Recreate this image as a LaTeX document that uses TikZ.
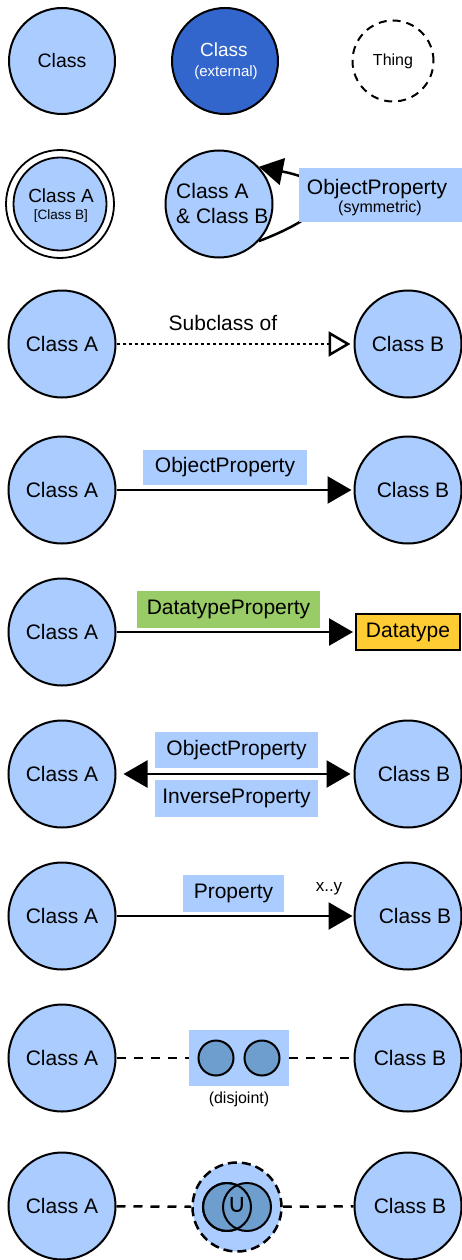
\documentclass[tikz,border=0pt]{standalone}
\usepackage{fontspec}
\setmainfont{Liberation Sans}
\newfontfamily\symbolfont{DejaVu Sans}
\usetikzlibrary{arrows.meta}
\definecolor{classblue}{HTML}{AACCFF}
\definecolor{extblue}{HTML}{3366CC}
\definecolor{setblue}{HTML}{6E9ECE}
\definecolor{dtyellow}{HTML}{FFCC33}
\definecolor{dtgreen}{HTML}{99CC66}
\newcommand{\fs}[1]{\fontsize{#1}{1.2\dimexpr#1pt\relax}\selectfont}
\begin{document}
\begin{tikzpicture}[x=1pt,y=-1pt,
  txt/.style={inner sep=0pt,font=\fs{21}},
  classnode/.style={circle,draw=black,line width=2pt,fill=classblue,
    minimum size=107pt,inner sep=0pt,font=\fs{21}},
  propbox/.style={fill=classblue,inner sep=0pt,font=\fs{21}},
  link/.style={line width=2.5pt},
  solidarrow/.style={-{Triangle[length=24pt,width=27pt]}},
  dashline/.style={line width=2.5pt,dash pattern=on 9pt off 8pt},
  setcircle/.style={circle,draw=black,line width=2pt,fill=setblue,inner sep=0pt}]
\useasboundingbox (0,0) rectangle (462,1260);

% --- plain, external and Thing classes
\node[classnode,minimum size=106pt,font=\fs{19.5}] (cls) at (62,61) {Class};
\node[classnode,fill=extblue,minimum size=106pt] (ext) at (225,61) {};
\node[txt,text=white,font=\fs{19}] (extname) at (224,50) {Class};
\node[txt,text=white,font=\fs{15}] (exttag) at (226,73) {(external)};
\node[circle,draw=black,line width=2pt,dash pattern=on 8pt off 6pt,
  minimum size=81pt,inner sep=0pt,font=\fs{16}] (thing) at (393,61) {Thing};

% --- equivalent classes and symmetric property
\node[circle,draw=black,line width=1.8pt,fill=white,minimum size=108pt] (eqouter) at (60,204) {};
\node[classnode,minimum size=93pt,line width=1.8pt] (eq) at (60,204) {};
\node[txt,font=\fs{19}] (eqname) at (61,196) {Class A};
\node[txt,font=\fs{13.5}] (eqalt) at (61,216) {[Class B]};

\node[classnode] (sym) at (219,204) {};
\node[txt,align=left,anchor=west,font=\fontsize{21}{25}\selectfont] (symname) at (176,203) {Class A\\\& Class B};
\draw[link,solidarrow] (sym.-43) .. controls (340,210) and (340,183) .. (sym.43);
\node[propbox,minimum width=163pt,minimum height=54pt] (symbox) at (380.5,195) {};
\node[txt] (symlabel) at (377,189) {ObjectProperty};
\node[txt,font=\fs{16}] (symtag) at (380,208) {(symmetric)};

% --- subclass of
\node[classnode] (a3) at (62,344) {Class A};
\node[classnode] (b3) at (408,344) {Class B};
\draw[link,dash pattern=on 3pt off 3pt,-{Triangle[open,fill=white,length=22pt,width=25pt]},
  shorten >=3pt] (a3) -- (b3);
\node[txt] (sub) at (223,323) {Subclass of};

% --- object property
\node[classnode] (a4) at (62,490) {Class A};
\node[classnode,label={[txt,name=b4text,xshift=5pt]center:Class B}] (b4) at (408,490) {};
\draw[link,solidarrow,shorten >=2pt] (a4) -- (b4);
\node[propbox,minimum width=164pt,minimum height=35pt] (op4) at (225,467.5) {ObjectProperty};

% --- datatype property
\node[classnode] (a5) at (62,632) {Class A};
\node[txt,draw=black,line width=2pt,fill=dtyellow,minimum width=104pt,minimum height=36pt] (dt) at (408,632) {Datatype};
\draw[link,solidarrow,shorten >=2pt] (a5) -- (dt);
\node[propbox,fill=dtgreen,minimum width=183pt,minimum height=37pt] (dp) at (228.5,609.5) {DatatypeProperty};

% --- inverse properties
\node[classnode] (a6) at (62,774) {Class A};
\node[classnode,label={[txt,name=b6text,xshift=6pt]center:Class B}] (b6) at (408,774) {};
\draw[link,{Triangle[length=24pt,width=27pt]}-{Triangle[length=24pt,width=27pt]},
  shorten <=7pt,shorten >=3pt] (a6) -- (b6);
\node[propbox,minimum width=163pt,minimum height=36pt] (op6) at (236.5,750) {ObjectProperty};
\node[propbox,minimum width=163pt,minimum height=37pt] (ip6) at (236.5,798.5) {InverseProperty};

% --- cardinality
\node[classnode] (a7) at (62,916) {Class A};
\node[classnode,label={[txt,name=b7text,xshift=7pt]center:Class B}] (b7) at (408,916) {};
\draw[link,solidarrow,shorten >=1pt] (a7) -- (b7);
\node[propbox,minimum width=101pt,minimum height=37pt] (p7) at (233.5,893.5) {Property};
\node[txt,font=\fs{17}] (card) at (329,889) {x..y};

% --- disjoint classes
\node[classnode] (a8) at (62,1058) {Class A};
\node[classnode,label={[txt,name=b8text,xshift=2pt]center:Class B}] (b8) at (408,1058) {};
\node[fill=classblue,inner sep=0pt,minimum width=100pt,minimum height=56pt] (dis) at (239,1058) {};
\draw[dashline] (a8) -- (dis);
\draw[dashline] (dis) -- (b8);
\node[setcircle,minimum size=35pt] (d1) at (216,1058) {};
\node[setcircle,minimum size=35pt] (d2) at (262,1058) {};
\node[txt,font=\fs{16}] (disj) at (239,1099) {(disjoint)};

% --- union of classes
\node[classnode] (a9) at (62,1206) {Class A};
\node[classnode,label={[txt,name=b9text,xshift=2pt]center:Class B}] (b9) at (408,1206) {};
\node[circle,draw=black,fill=classblue,line width=2.5pt,dash pattern=on 9pt off 5pt,
  minimum size=89pt,inner sep=0pt] (uni) at (237,1207) {};
\draw[dashline] (a9) -- (uni);
\draw[dashline] (uni) -- (b9);
\node[setcircle,minimum size=48pt] (u1) at (227,1207) {};
\node[setcircle,minimum size=48pt] (u2) at (247,1207) {};
\node[circle,draw=black,line width=2pt,minimum size=48pt,inner sep=0pt] (u1edge) at (u1) {};
\node[inner sep=0pt,font=\symbolfont\fontsize{26}{26}\selectfont] (cup) at (237,1205) {∪};
\end{tikzpicture}
\end{document}
